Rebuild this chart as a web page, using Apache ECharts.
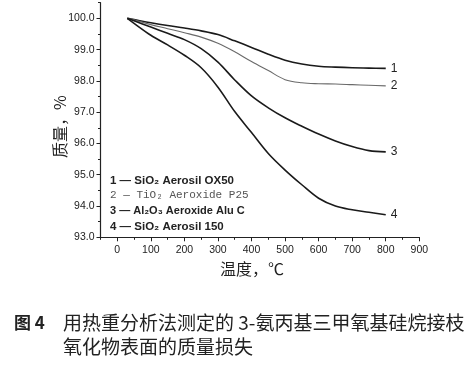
<!DOCTYPE html>
<html><head><meta charset="utf-8">
<script src="https://cdn.jsdelivr.net/npm/echarts@6/dist/echarts.min.js"></script>
<style>html,body{margin:0;padding:0;background:#fff}#c{width:472px;height:367px}</style>
</head><body><div id="c"></div>
<script>
const temps = [30,50,100,150,200,250,300,350,400,450,500,550,600,650,700,750,800];
const s1 = [100,99.96,99.86,99.77,99.69,99.6,99.48,99.28,99.07,98.85,98.66,98.54,98.47,98.44,98.42,98.41,98.4];
const s2 = [100,99.95,99.8,99.67,99.54,99.4,99.2,98.93,98.62,98.33,98.04,97.94,97.91,97.9,97.88,97.86,97.84];
const s3 = [100,99.92,99.72,99.52,99.32,99.03,98.6,98.03,97.52,97.14,96.82,96.55,96.3,96.08,95.9,95.77,95.73];
const s4 = [100,99.84,99.46,99.15,98.82,98.42,97.8,97.02,96.35,95.68,95.15,94.68,94.25,94.0,93.88,93.8,93.72];
const curveLabels = ['1','2','3','4'];
const legendLines = ['1 — SiO₂ Aerosil OX50','2 — TiO₂ Aeroxide P25','3 — Al₂O₃ Aeroxide Alu C','4 — SiO₂ Aerosil 150'];
const xTicks = [0,100,200,300,400,500,600,700,800,900];
const yTicks = [93,94,95,96,97,98,99,100];
const xTitle = '温度，℃';
const yTitle = '质量，%';
const captionNo = '图 4';
const caption1 = '用热重分析法测定的 3-氨丙基三甲氧基硅烷接枝';
const caption2 = '氧化物表面的质量损失';

const chart = echarts.init(document.getElementById('c'));
const pair = a => temps.map((t,i)=>[t,a[i]]);
const colors = ['#1a1a1a','#6a6a6a','#1a1a1a','#1a1a1a'];
const widths = [1.6,1.1,1.6,1.6];
const series = [s1,s2,s3,s4].map((a,i)=>({
  type:'line', data:pair(a), smooth:0.35, showSymbol:false, xAxisIndex:0, yAxisIndex:0,
  lineStyle:{color:colors[i], width:widths[i]},
  endLabel:{show:true, formatter:curveLabels[i], distance:5, color:'#222', fontSize:12, fontFamily:'Liberation Sans'},
  animation:false
}));
const axisFont = {color:'#222', fontSize:10.5, fontFamily:'Liberation Sans'};
chart.setOption({
  animation:false,
  grid:{left:100.5, right:52.7, top:2.7, bottom:129.7, containLabel:false},
  xAxis:[
    {type:'value', min:-50, max:900, splitLine:{show:false},
     axisLine:{onZero:false, lineStyle:{color:'#222', width:1.2}},
     axisTick:{customValues:xTicks, length:4, lineStyle:{color:'#222'}},
     axisLabel:Object.assign({customValues:xTicks, margin:7}, axisFont)},
    {type:'value', min:-50, max:900, interval:50, position:'bottom', splitLine:{show:false},
     axisLine:{show:false, onZero:false}, axisTick:{length:2.5, lineStyle:{color:'#222'}}, axisLabel:{show:false}}
  ],
  yAxis:[
    {type:'value', min:93, max:100.5, splitLine:{show:false},
     axisLine:{show:true, onZero:false, lineStyle:{color:'#222', width:1.2}},
     axisTick:{show:true, customValues:yTicks, length:4, lineStyle:{color:'#222'}},
     axisLabel:Object.assign({customValues:yTicks, margin:6, formatter:v=>v.toFixed(1)}, axisFont)},
    {type:'value', min:93, max:100.5, interval:0.5, position:'left', splitLine:{show:false},
     axisLine:{show:false, onZero:false}, axisTick:{show:true, length:2.5, lineStyle:{color:'#222'}}, axisLabel:{show:false}}
  ],
  series:series,
  graphic:[
    {type:'text', left:110, top:175, style:{text:legendLines[0], fill:'#222', font:'bold 11.5px "Liberation Sans"'}},
    {type:'text', left:110, top:190, style:{text:legendLines[1], fill:'#555', font:'11px "Liberation Mono"'}},
    {type:'text', left:110, top:205, style:{text:legendLines[2], fill:'#222', font:'bold 11px "Liberation Sans"'}},
    {type:'text', left:110, top:221, style:{text:legendLines[3], fill:'#222', font:'bold 11.5px "Liberation Sans"'}},
    {type:'text', x:220, y:261, style:{text:xTitle, fill:'#222', font:'16px "Noto Sans CJK SC"'}},
    {type:'text', x:52, y:158, rotation:Math.PI/2, style:{text:yTitle, fill:'#222', font:'16px "Noto Sans CJK SC"'}},
    {type:'text', x:14, y:314, style:{text:captionNo, fill:'#222', font:'bold 17px "Noto Sans CJK SC"'}},
    {type:'text', x:63, y:313, style:{text:caption1, fill:'#222', font:'19px "Noto Sans CJK SC"'}},
    {type:'text', x:63, y:337, style:{text:caption2, fill:'#222', font:'19px "Noto Sans CJK SC"'}}
  ]
});
</script></body></html>
